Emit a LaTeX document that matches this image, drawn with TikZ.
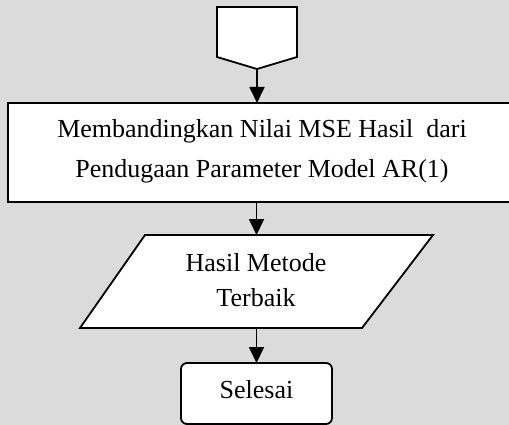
\documentclass[tikz,border=0pt]{standalone}
\usepackage{fontspec}
\setmainfont{Liberation Serif}
\usetikzlibrary{arrows.meta}
\begin{document}
\begin{tikzpicture}[x=1pt,y=-1pt,
  shapeline/.style={draw=black,line width=1.8pt,fill=white},
  flowarrow/.style={draw=black,line width=1.8pt,-{Triangle[width=15pt,length=16pt]}},
  txt/.style={font=\fontsize{26}{40}\selectfont,align=center,inner sep=0pt},
  hold/.style={inner sep=0pt,outer sep=0pt}]
\fill[black!14] (0,0) rectangle (509,425);
\useasboundingbox (0,0) rectangle (509,425);
% off-page connector
\draw[shapeline,line join=miter] (217,7) -- (297,7) -- (297,57) -- (257,69) -- (217,57) -- cycle;
\coordinate (starttip) at (257,69);
% process box
\node[hold,shapeline,minimum width=504pt,minimum height=99pt] (proc) at (260,152.5) {};
\node[txt] (proctext) at (262,151) {Membandingkan Nilai MSE Hasil\ \ dari\\Pendugaan Parameter Model AR(1)};
% output parallelogram
\draw[shapeline,line join=miter] (145,235) -- (433,235) -- (362,328) -- (80,328) -- cycle;
\node[hold,minimum width=200pt,minimum height=93pt] (io) at (256.5,281.5) {};
\node[txt,font=\fontsize{26}{35}\selectfont] (iotext) at (256,280) {Hasil Metode\\Terbaik};
% terminal
\node[hold,shapeline,rounded corners=6pt,minimum width=151pt,minimum height=61pt] (end) at (256.5,393.5) {};
\node[txt] (endtext) at (256.5,390) {Selesai};
% connectors
\draw[flowarrow] (starttip) -- (starttip |- proc.north);
\draw[flowarrow] (io.north |- proc.south) -- (io.north);
\draw[flowarrow] (io.south) -- (end.north);
\end{tikzpicture}
\end{document}
